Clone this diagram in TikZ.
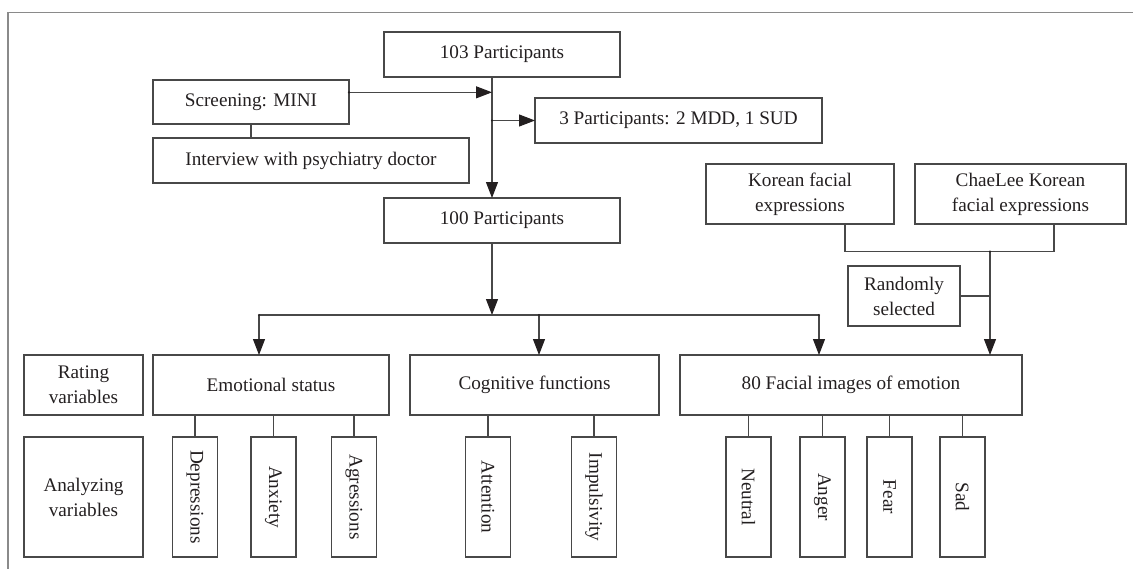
\documentclass[tikz,border=0pt]{standalone}
\usepackage{fontspec}
\setmainfont{Liberation Serif}
\usetikzlibrary{arrows.meta,calc}
\definecolor{txt}{HTML}{231F20}
\definecolor{ln}{HTML}{484848}
\definecolor{frm}{HTML}{8A8A8A}
\tikzset{
  box/.style={draw=ln, line width=0.85pt, rectangle, inner sep=0pt, outer sep=0pt,
    align=center, text=txt, font=\fontsize{14.4pt}{18.8pt}\selectfont},
  vbox/.style={box, minimum width=33.75pt, minimum height=90pt},
  vtext/.style={rotate=-90, text=txt, font=\fontsize{14.4pt}{18.8pt}\selectfont, inner sep=0pt},
  conn/.style={draw=ln, line width=0.8pt},
  arr/.style={conn, -{Triangle[length=12pt,width=9pt,color=txt]}},
  dot/.style={fill=txt}
}
\begin{document}
\begin{tikzpicture}[x=0.75pt,y=-0.75pt]
\useasboundingbox (0,0) rectangle (1133,569);
% frame
\draw[frm, line width=1.1pt] (1133,12.7) -- (8,12.7) -- (8,569);

% top part
\node[box, minimum width=177pt, minimum height=33.75pt] (p103) at (502,54.5) {103 Participants};
\node[box, minimum width=147pt, minimum height=33pt] (screen) at (251,102) {Screening: MINI};
\node[box, minimum width=237pt, minimum height=33.75pt] (interview) at (311,160.5) {Interview with psychiatry doctor};
\node[box, minimum width=215.25pt, minimum height=33.75pt] (p3) at (678.5,120.5) {3 Participants: 2 MDD, 1 SUD};
\node[box, minimum width=177pt, minimum height=33.75pt] (p100) at (502,220.5) {100 Participants};

\node[box, minimum width=141pt, minimum height=45pt] (korean) at (800,194) {Korean facial\\expressions};
\node[box, minimum width=158.25pt, minimum height=45pt] (chaelee) at (1020.5,194) {ChaeLee Korean\\facial expressions};
\node[box, minimum width=84pt, minimum height=45pt] (random) at (904,296) {Randomly\\selected};

% middle row
\node[box, minimum width=89.25pt, minimum height=45pt] (rating) at (83.5,385) {Rating\\variables};
\node[box, minimum width=177pt, minimum height=45pt] (emo) at (271,385) {Emotional status};
\node[box, minimum width=186.75pt, minimum height=45pt] (cog) at (534.5,385) {Cognitive functions};
\node[box, minimum width=256.5pt, minimum height=45pt] (facial) at (851,385) {80 Facial images of emotion};

% bottom row
\node[box, minimum width=89.25pt, minimum height=90pt] (analyzing) at (83.5,497) {Analyzing\\variables};
\node[vbox] (dep) at (195,497) {};
\node[vtext] at (dep) {Depressions};
\node[vbox] (anx) at (273.5,497) {};
\node[vtext] at (anx) {Anxiety};
\node[vbox] (agr) at (354,497) {};
\node[vtext] at (agr) {Agressions};
\node[vbox] (att) at (488,497) {};
\node[vtext] at (att) {Attention};
\node[vbox] (imp) at (594,497) {};
\node[vtext] at (imp) {Impulsivity};
\node[vbox] (neu) at (748.5,497) {};
\node[vtext] at (neu) {Neutral};
\node[vbox] (ang) at (822.5,497) {};
\node[vtext] at (ang) {Anger};
\node[vbox] (fea) at (889.5,497) {};
\node[vtext] at (fea) {Fear};
\node[vbox] (sad) at (962.5,497) {};
\node[vtext] at (sad) {Sad};

% coordinates
\coordinate (m) at (492,0);
\coordinate (sa) at ($(screen.north east)!0.28!(screen.south east)$);
\coordinate (b1) at (259,315);
\coordinate (b2) at (539,315);
\coordinate (b3) at (819,315);
\coordinate (kk) at (845,251.5);
\coordinate (cc) at (1054,251.5);
\coordinate (jj) at (990,251.5);

% connectors top
\draw[arr] (p103.south -| m) -- (p100.north -| m);
\draw[arr] (sa) -- (sa -| m);
\draw[arr] (p3.west -| m) -- (p3.west);
\draw[conn] (screen.south) -- (screen.south |- interview.north);
\draw[arr] (p100.south -| m) -- (m |- b1);

% horizontal distribution
\draw[conn] (b1) -- (b3);
\draw[arr] (b1) -- (b1 |- emo.north);
\draw[arr] (b2) -- (b2 |- cog.north);
\draw[arr] (b3) -- (b3 |- facial.north);

% facial sources
\draw[conn] (korean.south -| kk) -- (kk) -- (cc) -- (chaelee.south -| cc);
\draw[arr] (jj) -- (jj |- facial.north);
\draw[conn] (random.east) -- (random.east -| jj);

% dots
\fill[dot] (sa) circle (0.9pt);
\fill[dot] (p3.west -| m) circle (0.9pt);
\fill[dot] (b1) circle (0.9pt);
\fill[dot] (b2) circle (0.9pt);
\fill[dot] (b3) circle (0.9pt);
\fill[dot] (jj) circle (0.9pt);

% sub connectors
\foreach \n in {dep,anx,agr}{\draw[conn] (\n.north |- emo.south) -- (\n.north);}
\foreach \n in {att,imp}{\draw[conn] (\n.north |- cog.south) -- (\n.north);}
\foreach \n in {neu,ang,fea,sad}{\draw[conn] (\n.north |- facial.south) -- (\n.north);}
\end{tikzpicture}
\end{document}
